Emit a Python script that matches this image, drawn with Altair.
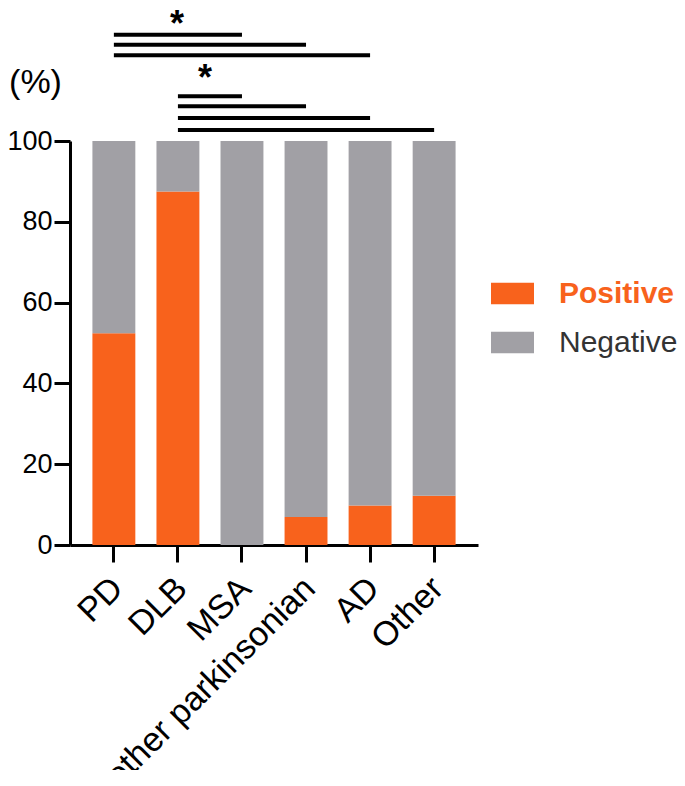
import altair as alt
import pandas as pd

categories = ["PD", "DLB", "MSA", "other parkinsonian", "AD", "Other"]
positive = [52.4, 87.5, 0.0, 6.9, 9.8, 12.2]
negative = [47.6, 12.5, 100.0, 93.1, 90.2, 87.8]
series = ["Positive", "Negative"]
series_colors = ["#F8621C", "#A1A0A5"]

# significance brackets (from group, to group, height in % units)
sig_from = ["PD", "PD", "PD", "DLB", "DLB", "DLB", "DLB"]
sig_to = ["MSA", "other parkinsonian", "AD", "MSA", "other parkinsonian", "AD", "Other"]
sig_level = [126.3, 123.8, 121.2, 111.1, 108.6, 105.7, 102.7]
star_at = ["DLB", "DLB"]
star_level = [126.1, 112.6]
star_shift = [-1, 27]

FONT = "Liberation Sans"

rows = []
for c, p, n in zip(categories, positive, negative):
    rows.append({"category": c, "series": "Positive", "value": p, "ord": 0})
    rows.append({"category": c, "series": "Negative", "value": n, "ord": 1})
bars_df = pd.DataFrame(rows)
sig_df = pd.DataFrame({"from": sig_from, "to": sig_to, "level": sig_level})

xscale = alt.Scale(domain=categories, paddingInner=0.33, paddingOuter=0.35)
yscale = alt.Scale(domain=[0, 100], nice=False)

xaxis = alt.Axis(title=None, labelAngle=-45, labelAlign="right", labelBaseline="top",
                 labelFontSize=34, labelFont=FONT, labelColor="#000", labelPadding=9,
                 labelOffset=-8,
                 tickSize=17, tickWidth=3, tickColor="#000",
                 domainWidth=3, domainColor="#000", labelLimit=500)
yaxis = alt.Axis(title="(%)", values=[0, 20, 40, 60, 80, 100], grid=False,
                 labelFontSize=27, labelFont=FONT, labelColor="#000", labelPadding=2,
                 tickSize=16, tickWidth=3, tickColor="#000",
                 domainWidth=3, domainColor="#000",
                 titleAngle=0, titleX=-35, titleY=-59, titleAlign="center",
                 titleBaseline="middle", titleFontSize=34, titleFont=FONT,
                 titleFontWeight="normal", titleColor="#000")

bars = alt.Chart(bars_df).mark_bar().encode(
    x=alt.X("category:N", scale=xscale, sort=categories, axis=xaxis),
    y=alt.Y("value:Q", scale=yscale, stack="zero", axis=yaxis),
    color=alt.Color("series:N",
                    scale=alt.Scale(domain=series, range=series_colors),
                    legend=alt.Legend(title=None, orient="none", legendX=421, legendY=131,
                                      symbolType="M-1,-0.5H1V0.5H-1Z", symbolSize=1849,
                                      symbolStrokeWidth=0, symbolOpacity=1,
                                      labelFontSize=30, labelFont=FONT, labelOffset=25,
                                      rowPadding=12, labelLimit=400,
                                      labelColor=alt.ExprRef(expr="datum.label === 'Positive' ? '#F8621C' : '#333333'"),
                                      labelFontWeight=alt.ExprRef(expr="datum.label === 'Positive' ? 'bold' : 'normal'"))),
    order=alt.Order("ord:Q"),
)

rules = alt.Chart(sig_df).mark_rule(color="#000", strokeWidth=4, strokeCap="butt").encode(
    x=alt.X("from:N", scale=xscale, bandPosition=0.5, axis=xaxis),
    x2=alt.X2("to:N", bandPosition=0.5),
    y=alt.Y("level:Q", scale=yscale, axis=yaxis),
)

star_layers = []
for at, lev, sh in zip(star_at, star_level, star_shift):
    sdf = pd.DataFrame({"at": [at], "level": [lev], "txt": ["*"]})
    star_layers.append(
        alt.Chart(sdf).mark_text(fontSize=36, fontWeight="bold", font=FONT, color="#000",
                                 baseline="alphabetic", align="center", dx=sh).encode(
            x=alt.X("at:N", scale=xscale, bandPosition=0.5, axis=xaxis),
            y=alt.Y("level:Q", scale=yscale, axis=yaxis),
            text="txt:N",
        )
    )

chart = alt.layer(bars, rules, *star_layers).properties(
    width=408, height=404,
    autosize=alt.AutoSizeParams(type="none"),
    padding={"left": 62, "top": 133, "right": 199, "bottom": 225},
).configure_view(stroke=None)

chart.save("out.html", embed_options={"renderer": "svg", "actions": False})
